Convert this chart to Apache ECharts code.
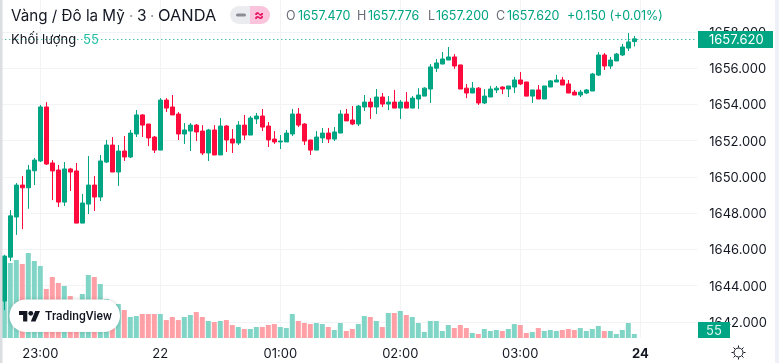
<!DOCTYPE html>
<html><head><meta charset="utf-8">
<style>html,body{margin:0;padding:0;background:#fff}#c{width:779px;height:363px}</style>
<script src="https://cdn.jsdelivr.net/npm/echarts@6/dist/echarts.min.js"></script>
</head><body><div id="c"></div>
<script>
const opens=[1643.15,1645.57,1647.79,1649.55,1649.4,1650.34,1650.88,1653.86,1650.77,1650.38,1648.61,1650.44,1650.33,1647.45,1648.5,1649.55,1648.89,1650.82,1651.76,1650.27,1651.43,1651.1,1652.37,1653.42,1652.92,1652.2,1651.48,1654.24,1653.86,1653.47,1652.37,1652.53,1652.86,1652.53,1651.32,1652.59,1651.21,1652.81,1652.09,1651.87,1652.86,1652.31,1653.2,1653.36,1652.81,1652.09,1651.93,1651.93,1652.37,1653.47,1652.92,1652.04,1651.48,1652.15,1652.42,1652.09,1652.42,1653.47,1653.14,1652.92,1653.86,1654.13,1653.86,1654.41,1654.02,1654.13,1653.8,1654.13,1653.8,1654.3,1654.46,1654.85,1656.0,1656.23,1656.45,1656.62,1656.18,1654.9,1654.63,1654.9,1654.08,1654.41,1654.8,1654.96,1654.85,1654.96,1655.35,1655.24,1654.46,1654.8,1654.3,1654.96,1655.24,1655.35,1655.13,1654.68,1654.52,1654.63,1654.74,1655.62,1656.73,1656.12,1656.4,1656.73,1657.11,1657.47];
const closes=[1645.63,1647.85,1649.55,1649.4,1650.38,1650.93,1653.86,1650.71,1650.33,1648.61,1650.44,1650.27,1647.45,1648.56,1649.55,1648.89,1650.88,1651.76,1650.27,1651.43,1651.1,1652.42,1653.42,1652.86,1652.15,1651.48,1654.24,1653.8,1653.42,1652.37,1652.59,1652.86,1652.48,1651.32,1652.59,1651.21,1652.81,1652.04,1651.87,1652.86,1652.31,1653.25,1653.36,1652.75,1652.04,1651.93,1651.98,1652.42,1653.47,1652.86,1651.98,1651.48,1652.2,1652.42,1652.09,1652.48,1653.47,1653.09,1652.92,1653.91,1654.13,1653.86,1654.41,1654.02,1654.13,1653.8,1654.13,1653.8,1654.35,1654.52,1654.9,1656.07,1656.29,1656.51,1656.62,1656.12,1654.85,1654.63,1654.9,1654.08,1654.46,1654.85,1654.9,1654.85,1655.02,1655.35,1655.13,1654.46,1654.8,1654.3,1655.02,1655.3,1655.35,1655.07,1654.63,1654.52,1654.68,1654.8,1655.68,1656.73,1656.12,1656.45,1656.78,1657.17,1657.45,1657.62];
const lows=[1642.65,1645.35,1646.8,1647.12,1648.24,1649.55,1650.82,1650.66,1648.72,1648.34,1648.39,1649.22,1647.45,1647.45,1647.95,1648.12,1648.67,1650.77,1650.27,1649.5,1650.88,1651.04,1652.2,1652.2,1651.7,1651.32,1651.48,1653.58,1653.42,1652.04,1651.82,1651.43,1651.98,1651.21,1650.88,1651.21,1651.21,1651.38,1651.32,1651.76,1652.04,1652.31,1652.92,1652.53,1651.65,1651.82,1651.54,1651.93,1652.26,1652.75,1651.76,1651.21,1651.48,1651.87,1651.87,1651.98,1652.42,1653.09,1652.86,1652.81,1653.64,1653.2,1653.47,1653.86,1653.69,1653.8,1653.2,1653.8,1653.8,1653.75,1654.46,1654.08,1655.79,1656.23,1656.45,1655.96,1654.85,1654.35,1654.63,1653.97,1654.02,1654.41,1654.63,1654.57,1654.41,1654.63,1655.07,1654.46,1654.08,1654.3,1654.3,1654.96,1655.24,1655.07,1654.63,1654.52,1654.41,1654.57,1654.74,1655.57,1655.9,1655.96,1656.4,1656.67,1656.95,1657.2];
const highs=[1645.7,1648.17,1649.66,1650.05,1650.66,1651.04,1653.97,1654.13,1650.93,1650.66,1650.82,1650.5,1650.77,1649.06,1651.15,1650.05,1651.21,1652.04,1652.2,1651.76,1652.26,1652.59,1653.69,1653.47,1652.92,1652.26,1654.35,1654.35,1654.52,1653.58,1652.97,1652.97,1652.92,1652.86,1652.65,1652.86,1653.25,1652.86,1652.64,1653.08,1653.42,1653.36,1653.53,1653.75,1653.03,1652.53,1652.31,1652.59,1653.75,1653.8,1652.97,1652.04,1652.53,1652.7,1652.7,1652.75,1653.69,1653.75,1653.91,1653.97,1654.52,1654.35,1654.85,1654.63,1654.46,1654.8,1654.24,1654.68,1654.46,1654.9,1654.95,1656.23,1656.51,1656.89,1657.17,1656.78,1656.18,1655.13,1655.24,1654.96,1654.85,1655.02,1655.02,1655.0,1655.02,1655.52,1655.79,1655.24,1654.8,1655.07,1655.02,1655.35,1655.63,1655.52,1655.35,1654.8,1654.8,1654.85,1655.74,1656.89,1656.84,1656.62,1656.84,1657.34,1657.94,1657.776];
const volumes=[1127,1031,1072,1017,1169,1059,990,674,839,756,715,577,522,605,866,839,742,536,454,467,385,289,302,330,330,330,330,247,289,247,289,316,357,289,234,220,234,247,179,151,124,124,151,151,179,192,151,137,330,234,206,192,206,192,151,110,206,96,124,192,302,289,234,151,344,344,371,316,289,206,82,234,234,96,179,137,179,137,69,55,124,96,110,96,124,192,179,69,82,137,96,110,96,110,124,110,137,96,124,165,96,96,55,110,206,55];
const tickTimes=['23:00','00:00','01:00','02:00','03:00','04:00'];
const tickLabels=['23:00','22','01:00','02:00','03:00','24'];
const priceTicks=[1642,1644,1646,1648,1650,1652,1654,1656,1658];
const categories=[];
for(let i=0,m=22*60+42;i<116;i++,m+=3){const t=m%1440;categories.push(String(Math.floor(t/60)).padStart(2,'0')+':'+String(t%60).padStart(2,'0'));}
const lastPrice=1657.62, lastVolume=55;
const UP='#00a583',DOWN='#ff0a3c',UPV='#80d5c6',DOWNV='#ff9fa6',GRID='#f2f3f5',INK='#131722';
const F='Inter, "Noto Sans", sans-serif';
function txt(x,y,t,fill,size,w,fam){return {type:'text',x:x,y:y,z:20,style:{text:t,fill:fill,font:(w||400)+' '+size+'px '+(fam||F),verticalAlign:'middle'}};}
function ray(a,b,c,d){return {type:'line',z:20,shape:{x1:a,y1:b,x2:c,y2:d},style:{stroke:INK,lineWidth:1}};}
const chart=echarts.init(document.getElementById('c'),null,{renderer:'canvas'});
const tickSet=new Set(tickTimes);
chart.setOption({
 animation:false,backgroundColor:'#fff',
 grid:{left:1.3,top:0,width:696,height:338,containLabel:false},
 xAxis:{type:'category',data:categories,boundaryGap:true,
  axisLine:{show:false},axisTick:{show:false,alignWithLabel:true},
  splitLine:{show:true,alignWithLabel:true,interval:(i,v)=>tickSet.has(v),lineStyle:{color:GRID,width:1}},
  axisLabel:{interval:(i,v)=>tickSet.has(v),margin:10,fontFamily:F,fontSize:13,color:INK,
   formatter:v=>{const l=tickLabels[tickTimes.indexOf(v)];return l==='24'?'{b|24}':l;},
   rich:{b:{fontWeight:700,fontSize:13,color:INK,fontFamily:F}}}},
 yAxis:[{type:'value',position:'right',min:1641.11,max:1659.764,scale:true,
  axisLine:{show:false},axisTick:{show:false,customValues:priceTicks},
  splitLine:{show:true,lineStyle:{color:GRID,width:1}},
  axisLabel:{customValues:priceTicks,margin:12,verticalAlign:'top',lineHeight:2,fontFamily:F,fontSize:13,color:INK,formatter:v=>v.toFixed(3)}},
  {type:'value',min:0,max:4648,show:false,splitLine:{show:false}}],
 series:[
  {type:'bar',yAxisIndex:1,z:1,barWidth:5,data:volumes.map((v,i)=>({value:v,itemStyle:{color:closes[i]>=opens[i]?UPV:DOWNV}}))},
  {type:'candlestick',z:2,barWidth:4,data:opens.map((o,i)=>[o,closes[i],lows[i],highs[i]]),
   itemStyle:{color:UP,color0:DOWN,borderColor:UP,borderColor0:DOWN,borderWidth:1},
   markLine:{silent:true,symbol:'none',label:{show:false},animation:false,
    lineStyle:{color:UP,type:[1,3],width:1},data:[{yAxis:lastPrice}]}}
 ],
 graphic:[
  {type:'rect',z:10,shape:{x:0,y:0,width:2.5,height:363},style:{fill:'#dcdde0'}},
  {type:'rect',z:10,shape:{x:775,y:0,width:4,height:363},style:{fill:'#f0f1f8'}},
  txt(11,16,'Vàng / Đô la Mỹ',INK,15.2),
  txt(129,16,'·','#9598a1',15),txt(137,16,'3',INK,15.5),txt(150,16,'·','#9598a1',15),txt(158,16,'OANDA',INK,16.4),
  {type:'rect',z:20,shape:{x:230,y:6,width:40,height:18,r:9},style:{fill:'#ebecef'}},
  {type:'rect',z:21,shape:{x:250,y:6,width:20,height:18,r:[0,9,9,0]},style:{fill:'#fbc4dc'}},
  {type:'rect',z:22,shape:{x:236,y:13.5,width:10,height:3,r:1.5},style:{fill:'#8a8d96'}},
  {type:'text',z:22,x:259,y:15,style:{text:'≈',fill:'#e8115f',font:'700 15px '+F,align:'center',verticalAlign:'middle'}},
  txt(286,16,'O','#6a6d78',12.5),txt(298,16,'1657.470',UP,12.5),
  txt(357,16,'H','#6a6d78',12.5),txt(368,16,'1657.776',UP,12.5),
  txt(428,16,'L','#6a6d78',12.5),txt(436,16,'1657.200',UP,12.5),
  txt(496,16,'C','#6a6d78',12.5),txt(507,16,'1657.620',UP,12.5),
  txt(567,16,'+0.150 (+0.01%)',UP,12.5),
  txt(11,40,'Khối lượng',INK,13),txt(83,40,String(lastVolume),'#22bfa4',13),
  {type:'rect',z:20,shape:{x:698,y:31,width:75,height:17},style:{fill:UP}},
  txt(709,40.5,lastPrice.toFixed(3),'#fff',13),
  {type:'rect',z:20,shape:{x:698,y:322,width:32,height:16},style:{fill:UP}},
  {type:'text',z:21,x:714,y:331.5,style:{text:String(lastVolume),fill:'#d8f3ee',font:'400 13px '+F,align:'center',verticalAlign:'middle'}},
  {type:'rect',z:20,shape:{x:9.5,y:299.5,width:110.5,height:32.5,r:16},style:{fill:'#fff',shadowBlur:4,shadowColor:'rgba(0,0,0,.18)'}},
  {type:'polygon',z:21,shape:{points:[[27.3,321.6],[23.1,321.6],[23.1,315.1],[19,315.1],[19,311],[27.3,311]]},style:{fill:INK}},
  {type:'polygon',z:21,shape:{points:[[35.5,321.6],[30.8,321.6],[35.2,311],[40,311]]},style:{fill:INK}},
  {type:'circle',z:21,shape:{cx:30.8,cy:313.3,r:2.4},style:{fill:INK}},
  txt(45,316.5,'TradingView',INK,12,500,'Roboto, sans-serif'),
  {type:'circle',z:20,shape:{cx:738.5,cy:352.5,r:4.5},style:{fill:'none',stroke:INK,lineWidth:1}},
  ray(738.5,345.5,738.5,347.5),ray(738.5,357.5,738.5,359.5),ray(731.5,352.5,733.5,352.5),ray(743.5,352.5,745.5,352.5),
  ray(733.5,347.5,735,349),ray(742,356,743.5,357.5),ray(733.5,357.5,735,356),ray(742,349,743.5,347.5)
 ]
});
</script></body></html>
